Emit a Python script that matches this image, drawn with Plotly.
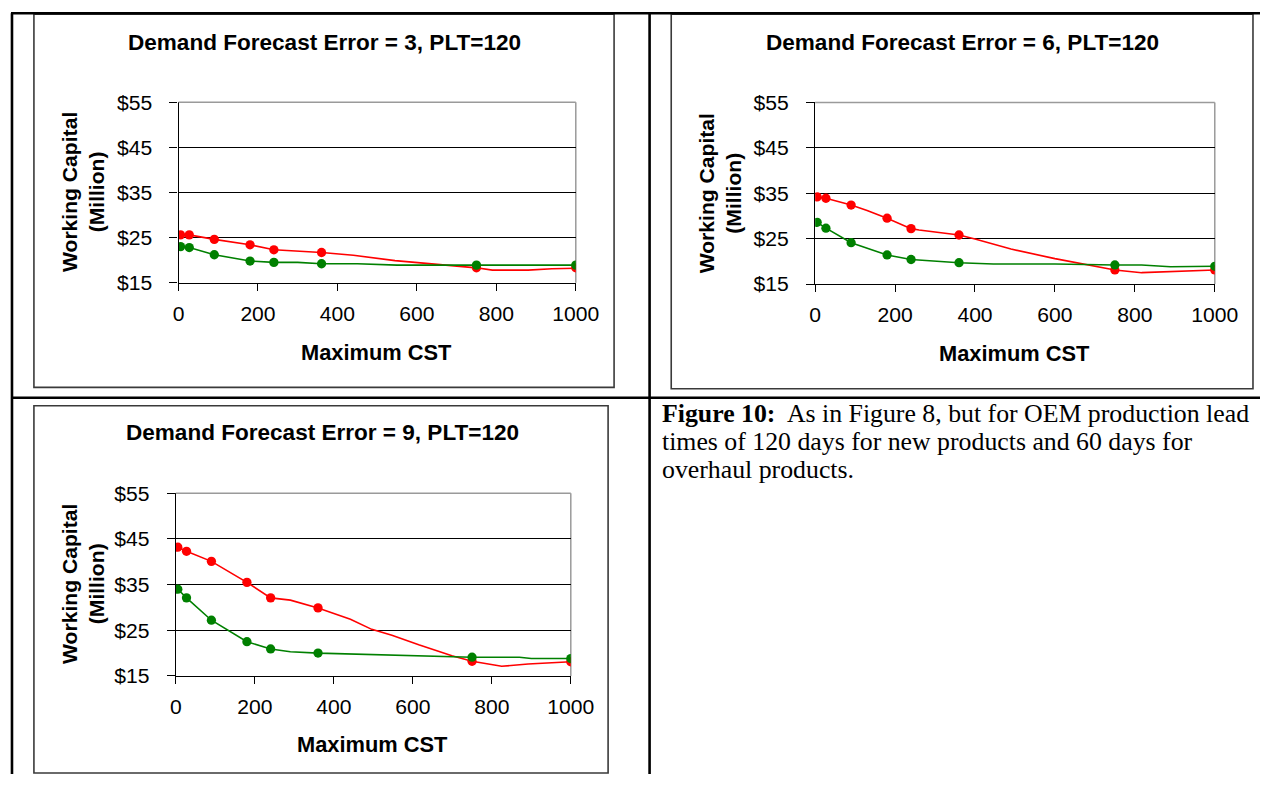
import plotly.graph_objects as go

W, H = 1283, 785

# ---------------- data ----------------
cst_points = [5, 27, 90, 180, 240, 360, 750, 1000]

titles = ["Demand Forecast Error = 3, PLT=120",
          "Demand Forecast Error = 6, PLT=120",
          "Demand Forecast Error = 9, PLT=120"]

# error = 3
red3_pts = [25.6, 25.6, 24.6, 23.4, 22.3, 21.7, 18.3, 18.3]
green3_pts = [23.0, 22.8, 21.2, 19.8, 19.5, 19.2, 18.9, 18.9]
red3_line_x = [5, 27, 90, 180, 240, 300, 360, 440, 545, 595, 750, 790, 880, 940, 1000]
red3_line_y = [25.6, 25.6, 24.6, 23.4, 22.3, 22.0, 21.7, 21.1, 19.9, 19.5, 18.3, 17.8, 17.8, 18.1, 18.2]
green3_line_x = [5, 27, 90, 180, 240, 300, 360, 450, 550, 750, 1000]
green3_line_y = [23.0, 22.8, 21.2, 19.8, 19.5, 19.5, 19.2, 19.2, 18.9, 18.9, 18.9]

# error = 6
red6_pts = [34.2, 33.9, 32.4, 29.5, 27.2, 25.8, 18.1, 18.1]
green6_pts = [28.6, 27.3, 24.1, 21.4, 20.4, 19.7, 19.2, 18.9]
red6_line_x = [5, 27, 90, 130, 180, 240, 260, 360, 400, 490, 600, 750, 817, 900, 1000]
red6_line_y = [34.2, 33.9, 32.4, 31.2, 29.5, 27.2, 26.9, 25.8, 24.9, 22.7, 20.6, 18.1, 17.5, 17.8, 18.1]
green6_line_x = [5, 27, 90, 180, 240, 300, 360, 446, 600, 750, 817, 889, 1000]
green6_line_y = [28.6, 27.3, 24.1, 21.4, 20.4, 20.0, 19.7, 19.4, 19.4, 19.2, 19.2, 18.8, 18.9]

# error = 9
red9_pts = [43.2, 42.3, 40.1, 35.5, 32.1, 29.9, 18.2, 18.1]
green9_pts = [34.0, 32.1, 27.2, 22.5, 20.9, 20.0, 19.1, 18.8]
red9_line_x = [5, 27, 90, 180, 240, 290, 360, 404, 442, 496, 547, 615, 699, 750, 825, 892, 1000]
red9_line_y = [43.2, 42.3, 40.1, 35.5, 32.1, 31.6, 29.9, 28.6, 27.4, 25.2, 23.9, 21.8, 19.4, 18.2, 17.1, 17.6, 18.1]
green9_line_x = [5, 27, 90, 180, 240, 290, 360, 450, 600, 750, 870, 900, 1000]
green9_line_y = [34.0, 32.1, 27.2, 22.5, 20.9, 20.3, 20.0, 19.8, 19.5, 19.1, 19.1, 18.8, 18.8]

x_ticks = [0, 200, 400, 600, 800, 1000]
y_ticks = [15, 25, 35, 45, 55]
y_tick_text = ["$15", "$25", "$35", "$45", "$55"]

caption_bold = "Figure 10:"
caption_lines = ["As in Figure 8, but for OEM production lead",
                 "times of 120 days for new products and 60 days for",
                 "overhaul products."]

# ---------------- layout helpers ----------------
# the photographed page comes out slightly reduced and shifted; map target
# picture positions back to page positions
SX, OX = 0.98, 3.0
SY, OY = 0.971, 11.2
FS = 1 / 0.975  # font/size compensation


def dom_x(X):
    return (X - OX) / SX


def dom_y(Y):
    return (Y - OY) / SY


def px(X):
    return min(max(dom_x(X) / W, 0), 1)


def py(Y):
    return min(max(1 - dom_y(Y) / H, 0), 1)


RED = "#FF0000"
GREEN = "#008000"
SANS = "Liberation Sans, Arial, sans-serif"
SERIF = "Liberation Serif, Times New Roman, serif"

charts = [
    dict(red_pts=red3_pts, green_pts=green3_pts, rlx=red3_line_x, rly=red3_line_y,
         glx=green3_line_x, gly=green3_line_y,
         plot=(176, 574.3, 101.5, 282), box=(31, 612.7, 13.5, 386.7),
         title=(322, 41.7), ytitle=(80, 191.5), xtitle=(374.5, 351.7)),
    dict(red_pts=red6_pts, green_pts=green6_pts, rlx=red6_line_x, rly=red6_line_y,
         glx=green6_line_x, gly=green6_line_y,
         plot=(814.3, 1215, 101.7, 283.3), box=(670, 1253.3, 13.5, 388),
         title=(962, 41.7), ytitle=(719, 192.5), xtitle=(1014.4, 352.7)),
    dict(red_pts=red9_pts, green_pts=green9_pts, rlx=red9_line_x, rly=red9_line_y,
         glx=green9_line_x, gly=green9_line_y,
         plot=(173.3, 569.3, 492.7, 675.3), box=(31, 606.7, 405, 772.5),
         title=(320, 431.7), ytitle=(80, 583.5), xtitle=(370.6, 744.3)),
]

fig = go.Figure()
shapes = []
annotations = []
layout_axes = {}

for i, c in enumerate(charts):
    n = "" if i == 0 else str(i + 1)
    xa, ya = "x" + n, "y" + n
    fig.add_trace(go.Scatter(x=c["rlx"], y=c["rly"], mode="lines",
                             line=dict(color=RED, width=1.6), xaxis=xa, yaxis=ya,
                             showlegend=False, hoverinfo="skip"))
    fig.add_trace(go.Scatter(x=c["glx"], y=c["gly"], mode="lines",
                             line=dict(color=GREEN, width=1.6), xaxis=xa, yaxis=ya,
                             showlegend=False, hoverinfo="skip"))
    fig.add_trace(go.Scatter(x=cst_points, y=c["red_pts"], mode="markers",
                             marker=dict(color=RED, size=9.3), xaxis=xa, yaxis=ya,
                             showlegend=False))
    fig.add_trace(go.Scatter(x=cst_points, y=c["green_pts"], mode="markers",
                             marker=dict(color=GREEN, size=9.3), xaxis=xa, yaxis=ya,
                             showlegend=False))
    x0, x1, y0, y1 = c["plot"]
    layout_axes["xaxis" + n] = dict(
        domain=[px(x0), px(x1)], range=[0, 1000], anchor=ya,
        tickvals=x_ticks, ticks="outside", ticklen=7, tickcolor="#000",
        showline=True, linecolor="#000", linewidth=1.2, showgrid=False, zeroline=False,
        tickfont=dict(family=SANS, size=20.6 * FS, color="#000"), ticklabelstandoff=5,
        fixedrange=True)
    layout_axes["yaxis" + n] = dict(
        domain=[py(y1), py(y0)], range=[15, 55], anchor=xa,
        tickvals=y_ticks, ticktext=y_tick_text, ticks="outside", ticklen=8, tickcolor="#000",
        showline=True, linecolor="#000", linewidth=1.2, showgrid=True, gridcolor="#000",
        gridwidth=1, zeroline=False,
        tickfont=dict(family=SANS, size=20.6 * FS, color="#000"), ticklabelstandoff=13,
        fixedrange=True)
    # plot-area border (gray top and right)
    shapes.append(dict(type="line", xref="paper", yref="paper", x0=px(x0), x1=px(x1),
                       y0=py(y0), y1=py(y0), line=dict(color="#9a9a9a", width=1.5), layer="above"))
    shapes.append(dict(type="line", xref="paper", yref="paper", x0=px(x1), x1=px(x1),
                       y0=py(y0), y1=py(y1), line=dict(color="#9a9a9a", width=1.5), layer="below"))
    # chart box
    bx0, bx1, by0, by1 = c["box"]
    shapes.append(dict(type="rect", xref="paper", yref="paper", x0=px(bx0), x1=px(bx1),
                       y0=py(by1), y1=py(by0), line=dict(color="#3a3a3a", width=1.6)))
    tx, ty = c["title"]
    annotations.append(dict(text="<b>" + titles[i] + "</b>", xref="paper", yref="paper",
                            x=px(tx), y=py(ty), xanchor="center", yanchor="middle",
                            showarrow=False, font=dict(family=SANS, size=22 * FS, color="#000")))
    wx, wy = c["ytitle"]
    annotations.append(dict(text="<b>Working Capital<br>(Million)</b>", xref="paper", yref="paper",
                            x=px(wx), y=py(wy), xanchor="center", yanchor="middle",
                            showarrow=False, textangle=-90,
                            font=dict(family=SANS, size=20.6 * FS, color="#000")))
    mx, my = c["xtitle"]
    annotations.append(dict(text="<b>Maximum CST</b>", xref="paper", yref="paper",
                            x=px(mx), y=py(my), xanchor="center", yanchor="middle",
                            showarrow=False, font=dict(family=SANS, size=21.3 * FS, color="#000")))

# table frame
BLACK = dict(color="#000", width=2.6)
shapes += [
    dict(type="line", xref="paper", yref="paper", x0=px(8), x1=1, y0=1 - 1.3 / H, y1=1 - 1.3 / H, line=BLACK),
    dict(type="line", xref="paper", yref="paper", x0=px(9), x1=px(9), y0=1 - 1.3 / H, y1=0, line=BLACK),
    dict(type="line", xref="paper", yref="paper", x0=px(648.3), x1=px(648.3), y0=1 - 1.3 / H, y1=0, line=BLACK),
    dict(type="line", xref="paper", yref="paper", x0=px(8), x1=1, y0=py(397), y1=py(397), line=BLACK),
]

caption_texts = ["<b>" + caption_bold + "</b>  " + caption_lines[0], caption_lines[1], caption_lines[2]]
for k, t in enumerate(caption_texts):
    annotations.append(dict(text=t, xref="paper", yref="paper", x=px(659), y=py(413 + 28 * k),
                            xanchor="left", yanchor="middle", align="left", showarrow=False,
                            font=dict(family=SERIF, size=25.8, color="#000")))

fig.update_layout(width=W, height=H, margin=dict(l=0, r=0, t=0, b=0),
                  paper_bgcolor="#fff", plot_bgcolor="#fff",
                  shapes=shapes, annotations=annotations, **layout_axes)

fig.write_html("out.html",
               config={"displayModeBar": False},
               post_script="document.body.style.margin='0';"
                           "document.body.style.overflow='hidden';"
                           "document.documentElement.style.overflow='hidden';")
